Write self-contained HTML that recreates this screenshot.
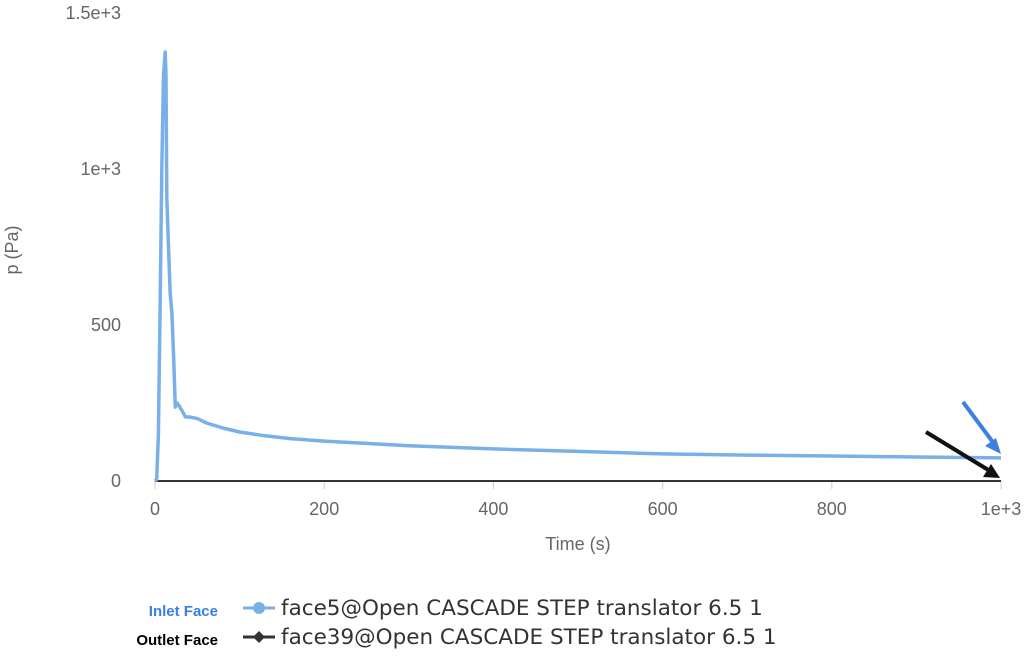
<!DOCTYPE html>
<html><head><meta charset="utf-8">
<style>
html,body{margin:0;padding:0;background:#fff;}
svg{display:block;}
</style></head>
<body>
<svg id="chart" width="1024" height="669" viewBox="0 0 1024 669" xmlns="http://www.w3.org/2000/svg">
<g id="axes"></g>
<g id="series"></g>
<text x="18" y="250" transform="rotate(-90 18 250)" text-anchor="middle" font-family="Liberation Sans, sans-serif" font-size="18" fill="#666">p (Pa)</text>
<text x="578" y="550" text-anchor="middle" font-family="Liberation Sans, sans-serif" font-size="18" fill="#666">Time (s)</text>
<g>
<line x1="963" y1="402" x2="995" y2="445" stroke="#3f7fe0" stroke-width="4"/>
<polygon points="1001,454 985,446 996,438" fill="#3f7fe0"/>
</g>
<g>
<line x1="926" y1="432" x2="990" y2="471" stroke="#111" stroke-width="4"/>
<polygon points="1000,478 983,477 991,464" fill="#111"/>
</g>
<g>
<text x="218" y="616" text-anchor="end" font-family="Liberation Sans, sans-serif" font-size="15" font-weight="bold" fill="#3a7fe0">Inlet Face</text>
<g>
<line x1="243" y1="608" x2="275" y2="608" stroke="#79b0ea" stroke-width="3"/>
<circle cx="259" cy="608" r="6" fill="#79b0ea"/>
<text x="281" y="615" font-family="DejaVu Sans, sans-serif" font-size="21.5" fill="#333">face5@Open CASCADE STEP translator 6.5 1</text>
</g>
<text x="218" y="645" text-anchor="end" font-family="Liberation Sans, sans-serif" font-size="15" font-weight="bold" fill="#000">Outlet Face</text>
<g>
<line x1="243" y1="637" x2="275" y2="637" stroke="#333" stroke-width="3"/>
<polygon points="259,631 265,637 259,643 253,637" fill="#333"/>
<text x="281" y="644" font-family="DejaVu Sans, sans-serif" font-size="21.5" fill="#333">face39@Open CASCADE STEP translator 6.5 1</text>
</g>
</g>
</svg>
<script>
const inletTimes = [0, 2, 4, 6, 8, 10, 12, 13, 14, 16, 18, 20, 22, 24, 26, 28, 32, 36, 41, 50, 61, 80, 100, 130, 160, 200, 300, 400, 500, 600, 700, 800, 900, 1000];
const inletValues = [0, 5, 150, 550, 1000, 1300, 1375, 1300, 910, 750, 600, 538, 400, 237, 250, 243, 225, 205, 205, 200, 186, 170, 157, 145, 136, 128, 113, 103, 95, 87, 83, 80, 77, 74];
const outletTimes = [0, 250, 500, 750, 1000];
const outletValues = [0, 0, 0, 0, 0];
const xTicks = [0, 200, 400, 600, 800, 1000];
const xTickLabels = ["0", "200", "400", "600", "800", "1e+3"];
const yTicks = [0, 500, 1000, 1500];
const yTickLabels = ["0", "500", "1e+3", "1.5e+3"];

const X0 = 155, X1 = 1001, Y0 = 481, PXPERPA = 0.312;
function sx(t){ return X0 + (t/1000)*(X1-X0); }
function sy(v){ return Y0 - v*PXPERPA; }
const NS = "http://www.w3.org/2000/svg";
const axes = document.getElementById('axes');
const series = document.getElementById('series');

const base = document.createElementNS(NS,'line');
base.setAttribute('x1', sx(0)); base.setAttribute('x2', sx(1000));
base.setAttribute('y1', sy(0)); base.setAttribute('y2', sy(0));
base.setAttribute('stroke', '#333'); base.setAttribute('stroke-width', '1.5');


axes.appendChild(base);

xTicks.forEach((t,i)=>{
  const tk = document.createElementNS(NS,'line');
  tk.setAttribute('x1', sx(t)); tk.setAttribute('x2', sx(t));
  tk.setAttribute('y1', sy(0)); tk.setAttribute('y2', sy(0)+8);
  tk.setAttribute('stroke', '#ccc');
  
  
  axes.appendChild(tk);
  const tx = document.createElementNS(NS,'text');
  tx.setAttribute('x', sx(t)); tx.setAttribute('y', 515);
  tx.setAttribute('text-anchor', 'middle');
  tx.setAttribute('font-family', 'Liberation Sans, sans-serif');
  tx.setAttribute('font-size', '18'); tx.setAttribute('fill', '#666');
  tx.textContent = xTickLabels[i];
  
  
  axes.appendChild(tx);
});
yTicks.forEach((v,i)=>{
  const tx = document.createElementNS(NS,'text');
  tx.setAttribute('x', 121); tx.setAttribute('y', sy(v)+6);
  tx.setAttribute('text-anchor', 'end');
  tx.setAttribute('font-family', 'Liberation Sans, sans-serif');
  tx.setAttribute('font-size', '18'); tx.setAttribute('fill', '#666');
  tx.textContent = yTickLabels[i];
  
  
  axes.appendChild(tx);
});

function path(ts, vs){ return ts.map((t,i)=>(i?'L':'M')+sx(t).toFixed(1)+','+sy(vs[i]).toFixed(1)).join(' '); }
const outlet = document.createElementNS(NS,'path');
outlet.setAttribute('d', path(outletTimes, outletValues));
outlet.setAttribute('fill', 'none'); outlet.setAttribute('stroke', '#333'); outlet.setAttribute('stroke-width', '2');


series.appendChild(outlet);
const inlet = document.createElementNS(NS,'path');
inlet.setAttribute('d', path(inletTimes, inletValues));
inlet.setAttribute('fill', 'none'); inlet.setAttribute('stroke', '#79b0ea'); inlet.setAttribute('stroke-width', '3.5');
inlet.setAttribute('stroke-linejoin', 'round');


series.appendChild(inlet);
</script>
</body></html>
